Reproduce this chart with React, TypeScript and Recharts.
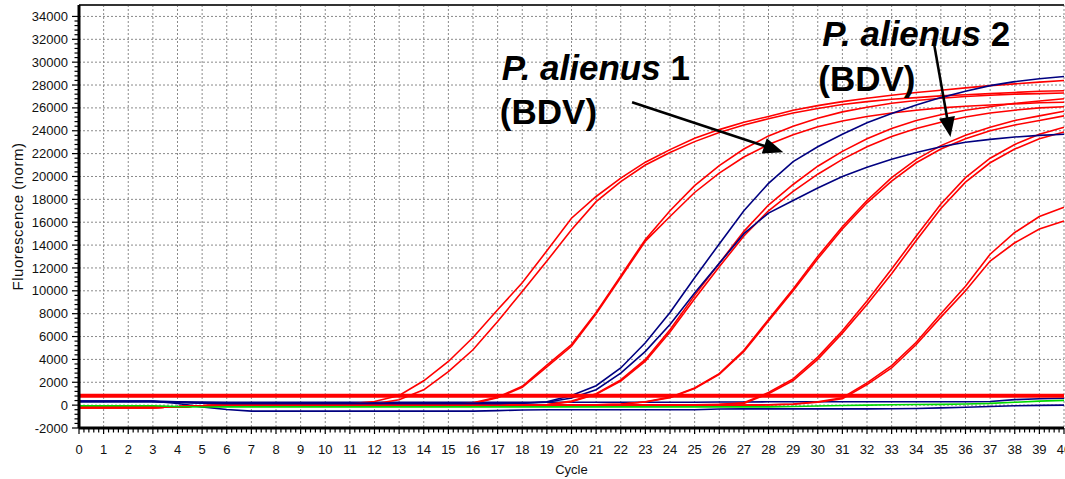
import { LineChart, Line, XAxis, YAxis, CartesianGrid, ReferenceLine, ReferenceDot } from 'recharts';

const FONT = '"Liberation Sans", Arial, Helvetica, sans-serif';
const RED = '#ff0000';
const NAVY = '#000080';
const GREEN = '#00d800';

// cycle numbers (x categories)
const cycles = [
  0, 1, 2, 3, 4, 5, 6, 7, 8, 9, 10, 11, 12, 13, 14, 15, 16, 17, 18, 19, 20,
  21, 22, 23, 24, 25, 26, 27, 28, 29, 30, 31, 32, 33, 34, 35, 36, 37, 38, 39, 40,
];
const yMajorTicks = [
  -2000, 0, 2000, 4000, 6000, 8000, 10000, 12000, 14000, 16000, 18000,
  20000, 22000, 24000, 26000, 28000, 30000, 32000, 34000,
];
const threshold = 820;

// red amplification pairs (normalised fluorescence per cycle)
const redA1 = [-200, -200, -200, -200, -150, -60, -20, 0, 0, 0,
  30, 120, 320, 850, 2130, 3820, 5920, 8340, 10700, 13500,
  16350, 18250, 19850, 21250, 22350, 23350, 24100, 24750, 25250, 25800,
  26200, 26550, 26850, 27100, 27350, 27550, 27750, 27950, 28100, 28250, 28400];
const redA2 = [-200, -200, -200, -200, -150, -60, -20, 0, 0, 0,
  0, 50, 120, 470, 1340, 2940, 4840, 7320, 9940, 12600,
  15350, 17800, 19550, 21000, 22100, 23050, 23850, 24500, 25050, 25550,
  25950, 26300, 26550, 26750, 26900, 27050, 27150, 27250, 27350, 27450, 27500];
const redB1 = [-200, -200, -200, -200, -150, -60, -20, 0, 0, 0,
  0, 0, 0, 0, 0, 50, 200, 700, 1650, 3500,
  5300, 8100, 11300, 14500, 17000, 19200, 20950, 22400, 23550, 24400,
  25100, 25650, 26050, 26400, 26650, 26850, 27000, 27100, 27200, 27250, 27300];
const redB2 = [-200, -200, -200, -200, -150, -60, -20, 0, 0, 0,
  0, 0, 0, 0, 0, 30, 150, 650, 1550, 3350,
  5150, 8000, 11150, 14350, 16500, 18600, 20300, 21700, 22800, 23650,
  24350, 24850, 25250, 25550, 25800, 26000, 26150, 26250, 26350, 26450, 26500];
const redC1 = [-200, -200, -200, -200, -150, -60, -20, 0, 0, 0,
  0, 0, 0, 0, 0, 0, 0, 0, 0, 60,
  350, 1000, 2200, 4000, 6600, 9600, 12400, 15200, 17500, 19300,
  20900, 22200, 23300, 24200, 24900, 25400, 25800, 26100, 26400, 26600, 26800];
const redC2 = [-200, -200, -200, -200, -150, -60, -20, 0, 0, 0,
  0, 0, 0, 0, 0, 0, 0, 0, 0, 40,
  300, 950, 2100, 3850, 6400, 9300, 12100, 14800, 17000, 18700,
  20200, 21500, 22600, 23500, 24200, 24750, 25200, 25550, 25800, 26000, 26100];
const redD1 = [-200, -200, -200, -200, -150, -60, -20, 0, 0, 0,
  0, 0, 0, 0, 0, 0, 0, 0, 0, 0,
  0, 30, 100, 300, 700, 1500, 2750, 4800, 7500, 10150,
  13000, 15600, 17900, 19900, 21500, 22700, 23600, 24300, 24900, 25300, 25700];
const redD2 = [-200, -200, -200, -200, -150, -60, -20, 0, 0, 0,
  0, 0, 0, 0, 0, 0, 0, 0, 0, 0,
  0, 20, 80, 280, 650, 1450, 2700, 4700, 7350, 10000,
  12800, 15400, 17700, 19600, 21200, 22400, 23300, 24000, 24500, 24900, 25300];
const redE1 = [-200, -200, -200, -200, -150, -60, -20, 0, 0, 0,
  0, 0, 0, 0, 0, 0, 0, 0, 0, 0,
  0, 0, 0, 0, 0, 20, 80, 200, 1100, 2300,
  4200, 6500, 9100, 11900, 14800, 17600, 19900, 21600, 22800, 23700, 24300];
const redE2 = [-200, -200, -200, -200, -150, -60, -20, 0, 0, 0,
  0, 0, 0, 0, 0, 0, 0, 0, 0, 0,
  0, 0, 0, 0, 0, 10, 60, 150, 1000, 2150,
  4000, 6300, 8800, 11500, 14400, 17200, 19500, 21200, 22400, 23300, 23900];
const redF1 = [-200, -200, -200, -200, -150, -60, -20, 0, 0, 0,
  0, 0, 0, 0, 0, 0, 0, 0, 0, 0,
  0, 0, 0, 0, 0, 0, 0, 0, 30, 100,
  300, 650, 1950, 3450, 5500, 8000, 10400, 13200, 15100, 16500, 17300];
const redF2 = [-200, -200, -200, -200, -150, -60, -20, 0, 0, 0,
  0, 0, 0, 0, 0, 0, 0, 0, 0, 0,
  0, 0, 0, 0, 0, 0, 0, 0, 20, 80,
  250, 550, 1800, 3250, 5300, 7700, 10000, 12600, 14200, 15400, 16100];

// P. alienus (BDV) pair, navy
const blueUpper = [300, 300, 300, 300, 250, 180, 150, 150, 150, 150,
  150, 150, 150, 150, 150, 150, 150, 150, 170, 300,
  850, 1700, 3250, 5450, 8100, 11150, 14100, 17000, 19400, 21300,
  22600, 23700, 24700, 25500, 26250, 26900, 27450, 27950, 28300, 28550, 28750];
const blueLower = [300, 300, 300, 300, 250, 180, 150, 150, 150, 150,
  150, 150, 150, 150, 150, 150, 150, 150, 170, 250,
  620, 1350, 2800, 4700, 7050, 9800, 12400, 15000, 16800, 17900,
  19000, 20000, 20800, 21500, 22100, 22600, 23000, 23250, 23450, 23600, 23700];

// flat (negative) traces
const blueFlat = [350, 350, 350, 350, 300, 260, 250, 250, 250, 250,
  250, 250, 250, 250, 250, 250, 250, 250, 250, 250,
  250, 250, 250, 250, 250, 250, 270, 280, 290, 300,
  300, 300, 300, 300, 300, 300, 300, 320, 480, 560, 600];
const blueDip = [350, 350, 350, 350, 150, -150, -380, -520, -520, -520,
  -520, -520, -520, -520, -520, -520, -520, -480, -420, -400,
  -400, -400, -400, -400, -400, -400, -340, -330, -330, -330,
  -330, -330, -330, -320, -290, -240, -180, -120, -60, -20, 0];
const greenFlat = [-50, -50, -50, -50, -130, -160, -150, -150, -150, -150,
  -150, -150, -150, -150, -150, -150, -150, -150, -150, -150,
  -150, -150, -150, -150, -150, -150, -150, -150, -150, -120,
  -80, -30, 0, 30, 50, 70, 100, 150, 250, 350, 420];

const series = [
  { key: 'blueFlat', values: blueFlat, color: NAVY },
  { key: 'blueDip', values: blueDip, color: NAVY },
  { key: 'redA1', values: redA1, color: RED },
  { key: 'redA2', values: redA2, color: RED },
  { key: 'redB1', values: redB1, color: RED },
  { key: 'redB2', values: redB2, color: RED },
  { key: 'redC1', values: redC1, color: RED },
  { key: 'redC2', values: redC2, color: RED },
  { key: 'redD1', values: redD1, color: RED },
  { key: 'redD2', values: redD2, color: RED },
  { key: 'redE1', values: redE1, color: RED },
  { key: 'redE2', values: redE2, color: RED },
  { key: 'redF1', values: redF1, color: RED },
  { key: 'redF2', values: redF2, color: RED },
  { key: 'blueUpper', values: blueUpper, color: NAVY },
  { key: 'blueLower', values: blueLower, color: NAVY },
  { key: 'greenFlat', values: greenFlat, color: GREEN },
];

// annotation text and arrows, in data units (cycle, fluorescence)
const labels = [
  { x: 17.17, y: 28400, italic: 'P. alienus', rest: ' 1' },
  { x: 17.09, y: 24570, italic: '', rest: '(BDV)' },
  { x: 30.18, y: 31400, italic: 'P. alienus', rest: ' 2' },
  { x: 30.02, y: 27450, italic: '', rest: '(BDV)' },
];
const arrows = [
  { from: { x: 22.46, y: 26490 }, to: { x: 28.6, y: 22125 } },
  { from: { x: 34.73, y: 31510 }, to: { x: 35.39, y: 23450 } },
];

const data = cycles.map((c, i) => {
  const row: Record<string, number> = { cycle: c };
  series.forEach((s) => {
    row[s.key] = s.values[i];
  });
  return row;
});

// minor tick marks between the labelled ones
function withMinor(majors: number[], parts: number) {
  const out: number[] = [];
  for (let i = 0; i < majors.length - 1; i++) {
    const step = (majors[i + 1] - majors[i]) / parts;
    for (let k = 0; k < parts; k++) out.push(Math.round((majors[i] + k * step) * 1000) / 1000);
  }
  out.push(majors[majors.length - 1]);
  return out;
}
const xTicks = withMinor(cycles, 5);
const yTicks = withMinor(yMajorTicks, 5);

function XTick({ x, y, payload }: any) {
  const v = payload.value;
  const major = Math.abs(v - Math.round(v)) < 1e-6;
  return (
    <g>
      <line x1={x} x2={x} y1={y} y2={y + (major ? 6 : 4.5)} stroke="#000" strokeWidth={1.2} />
      {major && (
        <text x={x} y={y + 26} textAnchor="middle" fontSize={13} fontFamily={FONT} fill="#111">
          {v}
        </text>
      )}
    </g>
  );
}

function YTick({ x, y, payload }: any) {
  const v = payload.value;
  const major = yMajorTicks.includes(v);
  return (
    <g>
      <line x1={x - (major ? 7 : 4.5)} x2={x} y1={y} y2={y} stroke="#000" strokeWidth={1.2} />
      {major && (
        <text x={x - 11} y={y} dy={4.6} textAnchor="end" fontSize={13} fontFamily={FONT} fill="#111">
          {v}
        </text>
      )}
    </g>
  );
}

function YLabel({ viewBox }: any) {
  const cx = viewBox.x + 23;
  const cy = viewBox.y + viewBox.height / 2;
  return (
    <text
      x={cx}
      y={cy}
      transform={`rotate(-90, ${cx}, ${cy})`}
      textAnchor="middle"
      fontSize={15}
      letterSpacing={0.5}
      fontFamily={FONT}
      fill="#111"
    >
      Fluorescence (norm)
    </text>
  );
}

function XLabel({ viewBox }: any) {
  return (
    <text x={viewBox.x + viewBox.width / 2} y={viewBox.y + 46} textAnchor="middle" fontSize={13} fontFamily={FONT} fill="#111">
      Cycle
    </text>
  );
}

function Arrow({ x1, y1, x2, y2 }: any) {
  const len = Math.hypot(x2 - x1, y2 - y1);
  const ux = (x2 - x1) / len;
  const uy = (y2 - y1) / len;
  const head = 20;
  const half = 8;
  const bx = x2 - ux * head;
  const by = y2 - uy * head;
  return (
    <g>
      <line x1={x1} y1={y1} x2={bx + ux * 2} y2={by + uy * 2} stroke="#000" strokeWidth={2.6} />
      <polygon
        points={`${x2},${y2} ${bx - uy * half},${by + ux * half} ${bx + uy * half},${by - ux * half}`}
        fill="#000"
      />
    </g>
  );
}

export default function App() {
  return (
    <div style={{ position: 'absolute', left: 0, top: 0, width: 1065, height: 479, overflow: 'hidden', background: '#fff' }}>
      <LineChart width={1090} height={479} data={data} margin={{ top: 5, right: 26, bottom: 0, left: 0 }}>
        <CartesianGrid
          horizontalValues={yMajorTicks}
          verticalValues={cycles}
          stroke="#8a8a8a"
          strokeDasharray="2 2"
          strokeWidth={1}
        />
        <XAxis
          type="number"
          dataKey="cycle"
          domain={[0, 40]}
          ticks={xTicks}
          interval={0}
          height={51}
          tickSize={0}
          tickMargin={0}
          tickLine={false}
          tick={<XTick />}
          axisLine={{ stroke: '#000', strokeWidth: 3 }}
          label={<XLabel />}
        />
        <YAxis
          type="number"
          domain={[-2000, 35000]}
          ticks={yTicks}
          interval={0}
          width={79}
          tickSize={0}
          tickMargin={0}
          tickLine={false}
          tick={<YTick />}
          axisLine={{ stroke: '#000', strokeWidth: 3 }}
          label={<YLabel />}
        />
        <ReferenceLine y={35000} stroke="#333" strokeWidth={2} />
        {series.map((s) => (
          <Line
            key={s.key}
            type="linear"
            dataKey={s.key}
            stroke={s.color}
            strokeWidth={1.6}
            dot={false}
            activeDot={false}
            isAnimationActive={false}
          />
        ))}
        <ReferenceLine y={threshold} stroke={RED} strokeWidth={4} />
        {arrows.map((a, i) => (
          <ReferenceLine key={`arrow-${i}`} segment={[a.from, a.to]} shape={(p: any) => <Arrow {...p} />} />
        ))}
        {labels.map((l, i) => (
          <ReferenceDot
            key={`label-${i}`}
            x={l.x}
            y={l.y}
            r={0}
            shape={(p: any) => (
              <text x={p.cx} y={p.cy} fontSize={35} fontWeight="bold" fontFamily={FONT} fill="#000">
                {l.italic && <tspan fontStyle="italic">{l.italic}</tspan>}
                <tspan>{l.rest}</tspan>
              </text>
            )}
          />
        ))}
      </LineChart>
    </div>
  );
}
